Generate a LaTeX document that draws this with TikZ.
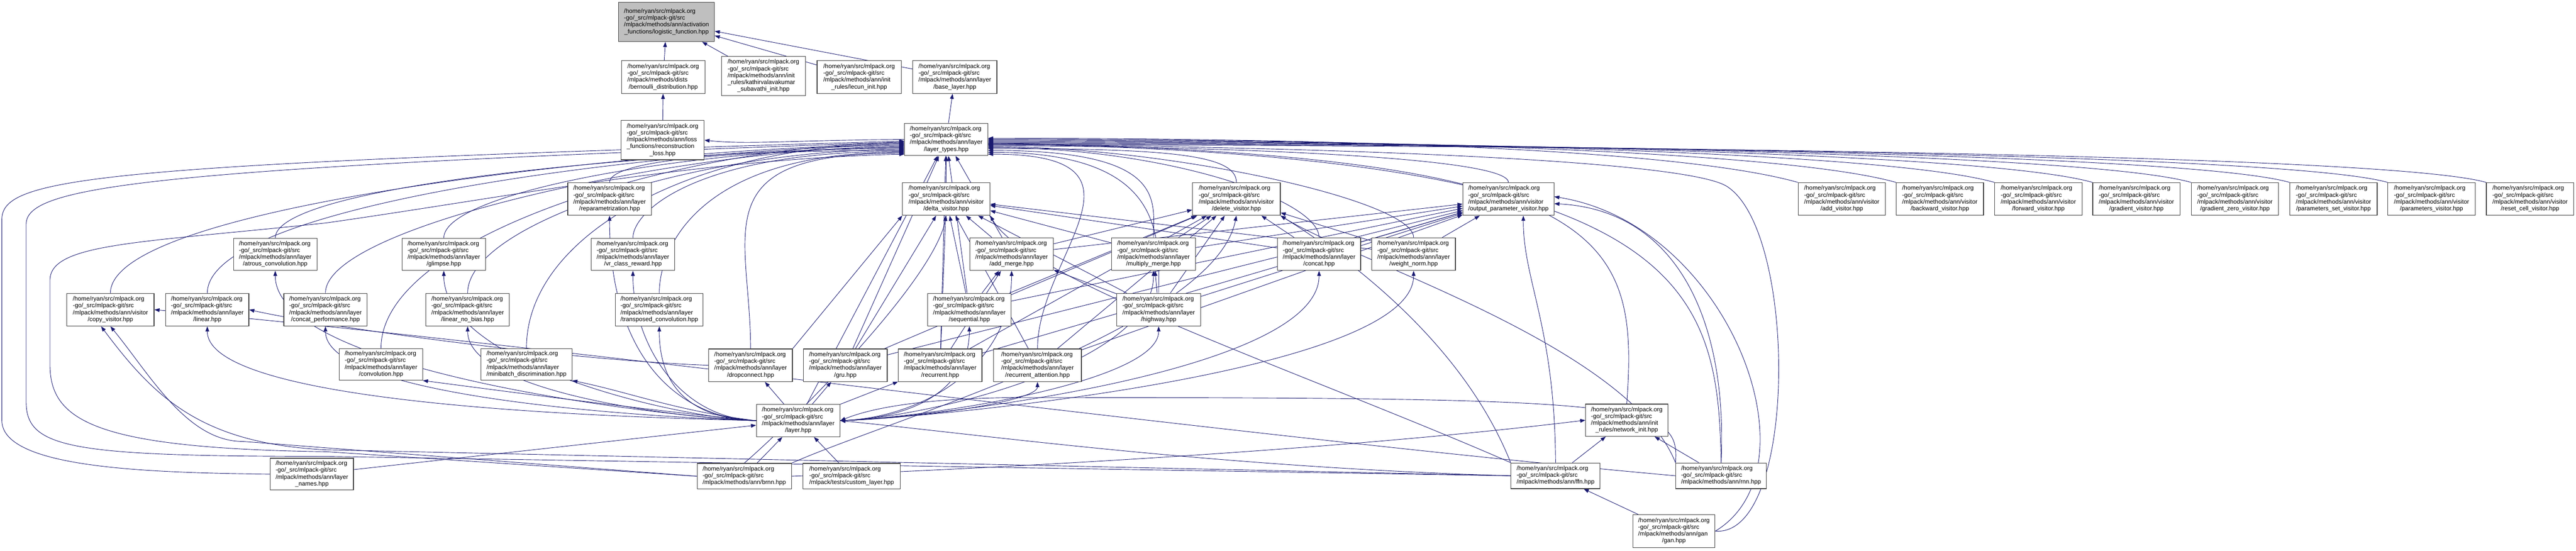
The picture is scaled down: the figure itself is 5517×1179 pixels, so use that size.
\documentclass[tikz,border=0pt]{standalone}
\usepackage{fontspec}
\setmainfont{Liberation Sans}
\usetikzlibrary{arrows.meta,calc}
\definecolor{edgec}{HTML}{191970}
\definecolor{rootfill}{HTML}{BFBFBF}
\pgfdeclarelayer{edgelayer}
\pgfsetlayers{edgelayer,main}
\newcommand\lns[2]{\begin{tabular}{@{}l@{}}#1\\\multicolumn{1}{@{}c@{}}{#2}\end{tabular}}
\newcommand\pth[2]{\lns{/home/ryan/src/mlpack.org\\-go/\_src/mlpack-git/src\\#1}{#2}}
\newcommand\bx[7][]{\node[box,#1,minimum width={#5pt-#3pt},minimum height={#6pt-#4pt}] (#2) at ({(#3+#5)/2},{(#4+#6)/2}) {#7};}
% edge into layer_types from the left bundle
\newcommand\lft[3]{\draw[lnk] (#1.north) .. controls ($(#1.north)+(0,-#2)$) and (1500,#3) .. (1937,#3);}
% edge into layer_types from the right
\newcommand\rgt[3]{\draw[lnk] (#1.north) .. controls ($(#1.north)+(0,-#2)$) and (2500,#3) .. (2116,#3);}
% layer.hpp to a layer on its left / right
\newcommand\lyl[2]{\draw[lnk] (layer.west) .. controls (1450,895) and ($(#1.south)+(0,#2)$) .. (#1.south);}
\newcommand\lyr[2]{\draw[lnk] (layer.east) .. controls (1980,895) and ($(#1.south)+(0,#2)$) .. (#1.south);}
\tikzset{
  box/.style={draw=black!75,line width=1.3pt,fill=white,inner sep=0pt,
    font=\fontsize{13}{14.6}\selectfont},
  lnk/.style={draw=edgec,line width=1pt,-{Triangle[length=11pt,width=8pt]}},
}
\begin{document}
\begin{tikzpicture}[x=1pt,y=-1pt]
\useasboundingbox (0,0) rectangle (5517,1179);
\renewcommand\arraystretch{1}
% nodes
\bx[fill=rootfill]{root}{1325}{5}{1530}{89}{\pth{/mlpack/methods/ann/activation}{\_functions/logistic\_function.hpp}}
\bx{bern}{1331}{130}{1510}{200}{\pth{/mlpack/methods/dists}{/bernoulli\_distribution.hpp}}
\bx{kath}{1545}{121}{1725}{205}{\lns{/home/ryan/src/mlpack.org\\-go/\_src/mlpack-git/src\\/mlpack/methods/ann/init\\\_rules/kathirvalavakumar}{\_subavathi\_init.hpp}}
\bx{lecun}{1750}{130}{1930}{200}{\pth{/mlpack/methods/ann/init}{\_rules/lecun\_init.hpp}}
\bx{base}{1955}{130}{2135}{200}{\pth{/mlpack/methods/ann/layer}{/base\_layer.hpp}}
\bx{recon}{1330}{258}{1508}{342}{\lns{/home/ryan/src/mlpack.org\\-go/\_src/mlpack-git/src\\/mlpack/methods/ann/loss\\\_functions/reconstruction}{\_loss.hpp}}
\bx{ltypes}{1937}{264}{2116}{333}{\pth{/mlpack/methods/ann/layer}{/layer\_types.hpp}}
\bx{repar}{1216}{391}{1395}{461}{\pth{/mlpack/methods/ann/layer}{/reparametrization.hpp}}
\bx{delta}{1933}{391}{2120}{461}{\pth{/mlpack/methods/ann/visitor}{/delta\_visitor.hpp}}
\bx{delv}{2554}{391}{2742}{461}{\pth{/mlpack/methods/ann/visitor}{/delete\_visitor.hpp}}
\bx{outp}{3133}{391}{3328}{461}{\pth{/mlpack/methods/ann/visitor}{/output\_parameter\_visitor.hpp}}
\bx{addv}{3851}{391}{4038}{461}{\pth{/mlpack/methods/ann/visitor}{/add\_visitor.hpp}}
\bx{backv}{4061}{391}{4248}{461}{\pth{/mlpack/methods/ann/visitor}{/backward\_visitor.hpp}}
\bx{fwdv}{4272}{391}{4459}{461}{\pth{/mlpack/methods/ann/visitor}{/forward\_visitor.hpp}}
\bx{gradv}{4482}{391}{4669}{461}{\pth{/mlpack/methods/ann/visitor}{/gradient\_visitor.hpp}}
\bx{gzv}{4693}{391}{4880}{461}{\pth{/mlpack/methods/ann/visitor}{/gradient\_zero\_visitor.hpp}}
\bx{psv}{4904}{391}{5091}{461}{\pth{/mlpack/methods/ann/visitor}{/parameters\_set\_visitor.hpp}}
\bx{pv}{5114}{391}{5301}{461}{\pth{/mlpack/methods/ann/visitor}{/parameters\_visitor.hpp}}
\bx{rcv}{5325}{391}{5512}{461}{\pth{/mlpack/methods/ann/visitor}{/reset\_cell\_visitor.hpp}}
\bx{atrous}{500}{510}{679}{579}{\pth{/mlpack/methods/ann/layer}{/atrous\_convolution.hpp}}
\bx{glimpse}{861}{510}{1040}{579}{\pth{/mlpack/methods/ann/layer}{/glimpse.hpp}}
\bx{vrcr}{1266}{510}{1445}{579}{\pth{/mlpack/methods/ann/layer}{/vr\_class\_reward.hpp}}
\bx{addm}{2077}{509}{2256}{579}{\pth{/mlpack/methods/ann/layer}{/add\_merge.hpp}}
\bx{mulm}{2381}{509}{2560}{579}{\pth{/mlpack/methods/ann/layer}{/multiply\_merge.hpp}}
\bx{concat}{2736}{509}{2914}{579}{\pth{/mlpack/methods/ann/layer}{/concat.hpp}}
\bx{wnorm}{2938}{509}{3117}{579}{\pth{/mlpack/methods/ann/layer}{/weight\_norm.hpp}}
\bx{copyv}{143}{628}{330}{698}{\pth{/mlpack/methods/ann/visitor}{/copy\_visitor.hpp}}
\bx{linear}{355}{628}{533}{698}{\pth{/mlpack/methods/ann/layer}{/linear.hpp}}
\bx{concatp}{608}{628}{786}{698}{\pth{/mlpack/methods/ann/layer}{/concat\_performance.hpp}}
\bx{linnb}{912}{628}{1091}{698}{\pth{/mlpack/methods/ann/layer}{/linear\_no\_bias.hpp}}
\bx{tconv}{1318}{628}{1506}{698}{\pth{/mlpack/methods/ann/layer}{/transposed\_convolution.hpp}}
\bx{seq}{1987}{628}{2165}{698}{\pth{/mlpack/methods/ann/layer}{/sequential.hpp}}
\bx{highway}{2392}{628}{2571}{698}{\pth{/mlpack/methods/ann/layer}{/highway.hpp}}
\bx{conv}{727}{746}{905}{814}{\pth{/mlpack/methods/ann/layer}{/convolution.hpp}}
\bx{minib}{1030}{746}{1225}{814}{\pth{/mlpack/methods/ann/layer}{/minibatch\_discrimination.hpp}}
\bx{dropc}{1518}{747}{1697}{817}{\pth{/mlpack/methods/ann/layer}{/dropconnect.hpp}}
\bx{gru}{1721}{747}{1900}{817}{\pth{/mlpack/methods/ann/layer}{/gru.hpp}}
\bx{recur}{1924}{747}{2103}{817}{\pth{/mlpack/methods/ann/layer}{/recurrent.hpp}}
\bx{recatt}{2128}{747}{2316}{817}{\pth{/mlpack/methods/ann/layer}{/recurrent\_attention.hpp}}
\bx{layer}{1620}{866}{1799}{935}{\pth{/mlpack/methods/ann/layer}{/layer.hpp}}
\bx{brnn}{1493}{992}{1695}{1047}{\lns{/home/ryan/src/mlpack.org\\-go/\_src/mlpack-git/src}{/mlpack/methods/ann/brnn.hpp}}
\bx{custom}{1720}{992}{1928}{1047}{\lns{/home/ryan/src/mlpack.org\\-go/\_src/mlpack-git/src}{/mlpack/tests/custom\_layer.hpp}}
\bx{lnames}{579}{981}{757}{1049}{\pth{/mlpack/methods/ann/layer}{\_names.hpp}}
\bx{netinit}{3396}{865}{3572}{934}{\pth{/mlpack/methods/ann/init}{\_rules/network\_init.hpp}}
\bx{ffn}{3236}{991}{3427}{1046}{\lns{/home/ryan/src/mlpack.org\\-go/\_src/mlpack-git/src}{/mlpack/methods/ann/ffn.hpp}}
\bx{rnn}{3589}{991}{3783}{1046}{\lns{/home/ryan/src/mlpack.org\\-go/\_src/mlpack-git/src}{/mlpack/methods/ann/rnn.hpp}}
\bx{gan}{3497}{1102}{3673}{1172}{\pth{/mlpack/methods/ann/gan}{/gan.hpp}}
% ---- edges (drawn beneath the boxes) ----
\begin{pgfonlayer}{edgelayer}
\foreach \c/\p in {bern/root,kath/root,lecun/root,base/root,recon/bern,ltypes/base}
  \draw[lnk] (\c) -- (\p);
\draw[lnk] (ltypes.west) .. controls (1700,300) and (1600,310) .. (recon.east);
% into layer_types from left
\lft{repar}{40}{322}
\lft{atrous}{120}{318}
\lft{glimpse}{100}{316}
\lft{vrcr}{60}{324}
\lft{copyv}{200}{310}
\lft{linear}{200}{312}
\lft{concatp}{150}{314}
\lft{linnb}{150}{320}
\lft{tconv}{100}{326}
\lft{conv}{250}{306}
\lft{minib}{250}{308}
\lft{dropc}{250}{328}
% routed round the left edge
\draw[lnk] (lnames.west) .. controls (300,1012) and (4,1000) .. (4,900) -- (4,470) .. controls (4,380) and (200,352) .. (1937,302);
\draw[lnk] (ffn.west) -- (700,977) .. controls (150,977) and (56,960) .. (56,860) -- (56,480) .. controls (56,400) and (300,360) .. (1937,304);
\draw[lnk] (brnn.west) -- (700,967) .. controls (200,960) and (107,900) .. (107,780) -- (107,600) .. controls (107,520) and (300,520) .. (700,477) .. controls (1100,420) and (1500,340) .. (1937,330);
% into layer_types from below / right
\foreach \c in {delta,addm,seq,gru,recur,layer}
  \draw[lnk] (\c) -- (ltypes);
\rgt{delv}{60}{318}
\rgt{outp}{60}{312}
\rgt{mulm}{80}{322}
\rgt{concat}{80}{316}
\rgt{wnorm}{80}{314}
\rgt{highway}{120}{326}
\rgt{recatt}{200}{330}
\foreach \c/\yy in {addv/296,backv/298,fwdv/300,gradv/302,gzv/304,psv/306,pv/308,rcv/310}
  \draw[lnk] (\c.north west) .. controls ($(\c.north west)+(-250,-70)$) and (2900,\yy) .. (2116,\yy);
\draw[lnk] (netinit.north) .. controls (3510,500) and (3450,330) .. (2116,306);
\draw[lnk] (rnn.north) .. controls (3680,600) and (3600,330) .. (2116,308);
\draw[lnk] (gan.east) .. controls (3850,1150) and (3850,500) .. (3700,400) .. controls (3600,330) and (2500,310) .. (2116,310);
% visitors used by layers and networks
\foreach \c in {addm,mulm,concat,wnorm,seq,highway,recur,recatt,gru}
  {\draw[lnk] (\c) -- (delta); \draw[lnk] (\c) -- (delv); \draw[lnk] (\c) -- (outp);}
\draw[lnk] (dropc.north east) -- (delta.south west);
\foreach \c in {seq,highway,recur}
  \draw[lnk] (\c) -- (addm);
\draw[lnk] (highway) -- (mulm);
\draw[lnk] (dropc.west) .. controls (1200,770) and (700,700) .. (linear.east);
% layer.hpp includes the layers
\lyl{atrous}{220}
\lyl{glimpse}{200}
\lyl{vrcr}{150}
\lyl{linear}{180}
\lyl{concatp}{160}
\lyl{linnb}{140}
\lyl{tconv}{100}
\lyl{repar}{300}
\draw[lnk] (layer.west) .. controls (1400,880) and (1100,840) .. (conv.south east);
\draw[lnk] (layer.west) .. controls (1450,880) and (1350,840) .. (minib.south east);
\foreach \p in {dropc,gru,recur}
  \draw[lnk] (layer) -- (\p);
\lyr{recatt}{40}
\lyr{seq}{120}
\lyr{addm}{200}
\lyr{mulm}{200}
\lyr{highway}{120}
\lyr{concat}{220}
\lyr{wnorm}{220}
\foreach \c in {brnn,custom,lnames}
  \draw[lnk] (\c) -- (layer);
\draw[lnk] (ffn.west) .. controls (2600,1000) and (2100,930) .. (layer.east);
\draw[lnk] (rnn.north west) .. controls (3600,860) and (3500,851) .. (2200,851) .. controls (1950,851) and (1850,880) .. (layer.east);
% network init and networks
\draw[lnk] (ffn) -- (netinit);
\draw[lnk] (rnn) -- (netinit);
\draw[lnk] (brnn.east) .. controls (2200,1000) and (2900,960) .. (netinit.west);
\draw[lnk] (gan) -- (ffn);
\draw[lnk] (ffn.north) .. controls (3330,700) and (3262,600) .. ($(outp.south)+(32,0)$);
\draw[lnk] (rnn.north) .. controls (3700,700) and (3600,450) .. ($(outp.east)+(0,10)$);
\draw[lnk] (gan.east) .. controls (3900,1000) and (3700,480) .. ($(outp.east)+(0,-5)$);
\foreach \c in {ffn,rnn}
  \draw[lnk] (\c.north west) .. controls ($(\c.north west)+(-100,-250)$) and (2900,560) .. (delv.south east);
\draw[lnk] (brnn.north east) .. controls (1900,900) and (2600,700) .. (delv.south);
\draw[lnk] (brnn.north) .. controls (1700,900) and (2000,600) .. (delta.south);
\draw[lnk] (ffn.north west) .. controls (2800,800) and (2200,600) .. (delta.south east);
% copy visitor
\draw[lnk] (brnn.west) -- (520,945) .. controls (400,945) and (320,800) .. (copyv.south);
\draw[lnk] (ffn.west) -- (700,963) .. controls (430,950) and (330,850) .. ($(copyv.south)+(-20,0)$);
\draw[lnk] (rnn.west) .. controls (2600,930) and (1200,740) .. (copyv.east);
\end{pgfonlayer}
\end{tikzpicture}
\end{document}
